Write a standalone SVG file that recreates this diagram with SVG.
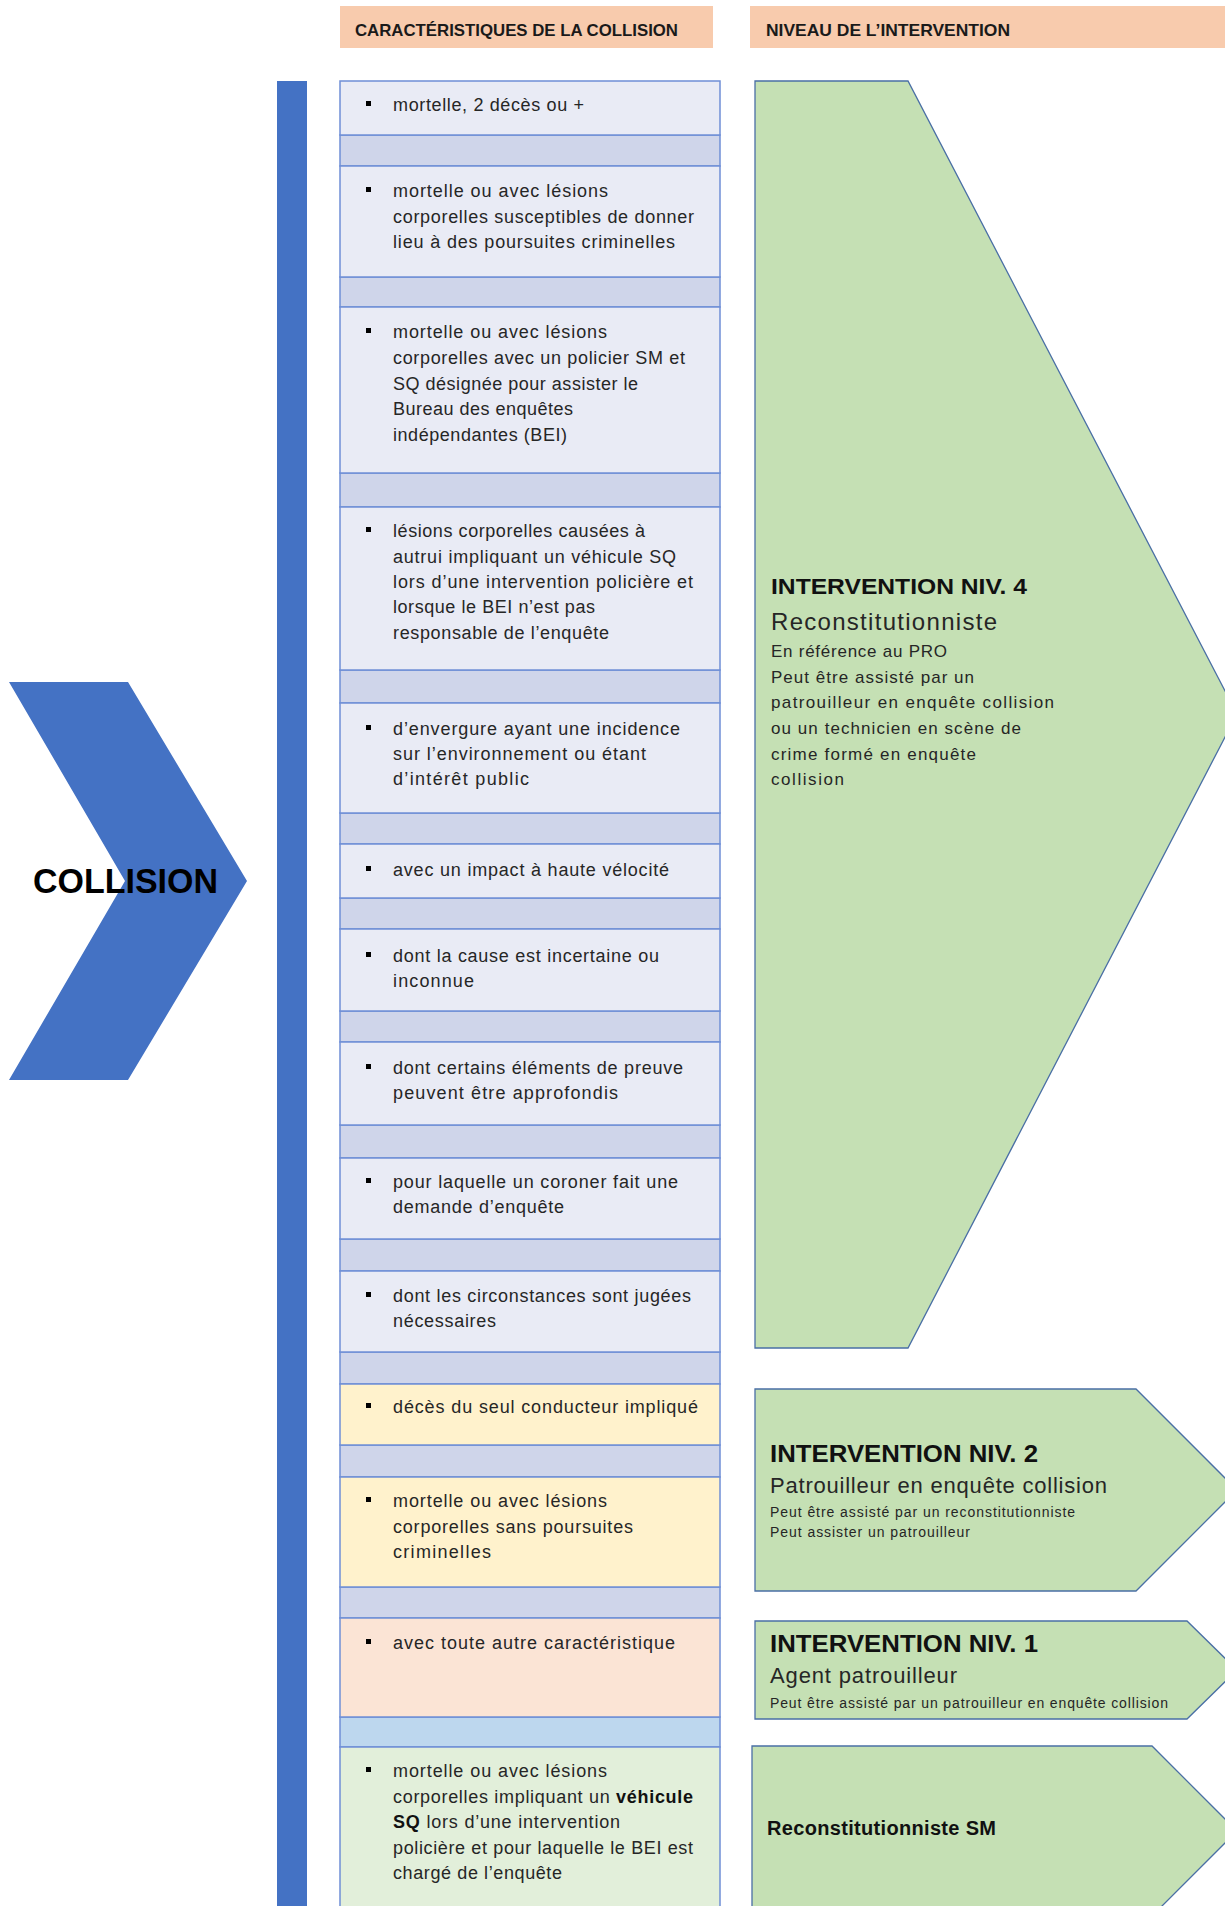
<svg xmlns="http://www.w3.org/2000/svg" width="1225" height="1906" viewBox="0 0 1225 1906">
<style>
.t{font-family:"Liberation Sans",Arial,sans-serif;fill:#262626}
.b{font-size:18px}
.h{font-size:16.5px;font-weight:bold;fill:#1a1a1a}
.row{stroke:#6f8fd6;stroke-width:1.5}
.lt{fill:#E9EBF5}.gp{fill:#CFD5EA}.ye{fill:#FFF2CC}.pe{fill:#FBE4D5}.lb{fill:#BDD7EE}.gr{fill:#E2EFDA}
.arr{fill:#C5E0B4;stroke:#4a6fa5;stroke-width:1.3}
.ttl{font-size:22px;font-weight:bold;fill:#111}
.sub{font-size:22px}
.sm{font-size:17px}
.xs{font-size:14px}
.bl{fill:#000}
</style>
<rect width="1225" height="1906" fill="#fff"/>
<g id="headers">
<rect x="340" y="6" width="373" height="42" fill="#F8CBAD"/>
<text class="t h" x="355" y="36" textLength="323" lengthAdjust="spacingAndGlyphs">CARACTÉRISTIQUES DE LA COLLISION</text>
<rect x="750" y="6" width="475" height="42" fill="#F8CBAD"/>
<text class="t h" x="766" y="36" textLength="244" lengthAdjust="spacingAndGlyphs">NIVEAU DE L’INTERVENTION</text>
</g>
<g id="collision">
<polygon points="9,682 128,682 247,881 128,1080 9,1080 125,881" fill="#4472C4"/>
<text class="t" x="33" y="893" style="font-size:35px;font-weight:bold;fill:#000" textLength="185" lengthAdjust="spacingAndGlyphs">COLLISION</text>
</g>
<g id="bar"><rect x="277" y="81" width="30" height="1830" fill="#4472C4"/></g>
<g id="connectors"></g>
<g id="characteristics">
<g id="gaps">
<rect class="row gp" x="340" y="135" width="380" height="31"/>
<rect class="row gp" x="340" y="277" width="380" height="30"/>
<rect class="row gp" x="340" y="473" width="380" height="34"/>
<rect class="row gp" x="340" y="670" width="380" height="33"/>
<rect class="row gp" x="340" y="813" width="380" height="31"/>
<rect class="row gp" x="340" y="898" width="380" height="31"/>
<rect class="row gp" x="340" y="1011" width="380" height="31"/>
<rect class="row gp" x="340" y="1125" width="380" height="33"/>
<rect class="row gp" x="340" y="1239" width="380" height="32"/>
<rect class="row gp" x="340" y="1352" width="380" height="32"/>
<rect class="row gp" x="340" y="1445" width="380" height="32"/>
<rect class="row gp" x="340" y="1587" width="380" height="31"/>
<rect class="row lb" x="340" y="1717" width="380" height="30"/>
</g>
<g id="c1">
<rect class="row lt" x="340" y="81" width="380" height="54"/>
<rect class="bl" x="366" y="101" width="5" height="5"/>
<text class="t b" x="393" y="111" textLength="191" lengthAdjust="spacing">mortelle, 2 décès ou +</text>
</g>
<g id="c2">
<rect class="row lt" x="340" y="166" width="380" height="111"/>
<rect class="bl" x="366" y="187" width="5" height="5"/>
<text class="t b" x="393" y="197" textLength="215" lengthAdjust="spacing">mortelle ou avec lésions</text>
<text class="t b" x="393" y="223" textLength="301" lengthAdjust="spacing">corporelles susceptibles de donner</text>
<text class="t b" x="393" y="248" textLength="282" lengthAdjust="spacing">lieu à des poursuites criminelles</text>
</g>
<g id="c3">
<rect class="row lt" x="340" y="307" width="380" height="166"/>
<rect class="bl" x="366" y="328" width="5" height="5"/>
<text class="t b" x="393" y="338" textLength="214" lengthAdjust="spacing">mortelle ou avec lésions</text>
<text class="t b" x="393" y="364" textLength="292" lengthAdjust="spacing">corporelles avec un policier SM et</text>
<text class="t b" x="393" y="390" textLength="245" lengthAdjust="spacing">SQ désignée  pour assister le</text>
<text class="t b" x="393" y="415" textLength="180" lengthAdjust="spacing">Bureau des enquêtes</text>
<text class="t b" x="393" y="441" textLength="174" lengthAdjust="spacing">indépendantes (BEI)</text>
</g>
<g id="c4">
<rect class="row lt" x="340" y="507" width="380" height="163"/>
<rect class="bl" x="366" y="527" width="5" height="5"/>
<text class="t b" x="393" y="537" textLength="252" lengthAdjust="spacing">lésions corporelles causées à</text>
<text class="t b" x="393" y="563" textLength="283" lengthAdjust="spacing">autrui impliquant un véhicule SQ</text>
<text class="t b" x="393" y="588" textLength="300" lengthAdjust="spacing">lors d’une intervention policière et</text>
<text class="t b" x="393" y="613" textLength="202" lengthAdjust="spacing">lorsque le BEI n’est pas</text>
<text class="t b" x="393" y="639" textLength="216" lengthAdjust="spacing">responsable de l’enquête</text>
</g>
<g id="c5">
<rect class="row lt" x="340" y="703" width="380" height="110"/>
<rect class="bl" x="366" y="725" width="5" height="5"/>
<text class="t b" x="393" y="735" textLength="287" lengthAdjust="spacing">d’envergure  ayant une  incidence</text>
<text class="t b" x="393" y="760" textLength="253" lengthAdjust="spacing">sur l’environnement ou étant</text>
<text class="t b" x="393" y="785" textLength="136" lengthAdjust="spacing">d’intérêt public</text>
</g>
<g id="c6">
<rect class="row lt" x="340" y="844" width="380" height="54"/>
<rect class="bl" x="366" y="866" width="5" height="5"/>
<text class="t b" x="393" y="876" textLength="276" lengthAdjust="spacing">avec un impact à haute vélocité</text>
</g>
<g id="c7">
<rect class="row lt" x="340" y="929" width="380" height="82"/>
<rect class="bl" x="366" y="952" width="5" height="5"/>
<text class="t b" x="393" y="962" textLength="266" lengthAdjust="spacing">dont la cause est incertaine ou</text>
<text class="t b" x="393" y="987" textLength="81" lengthAdjust="spacing">inconnue</text>
</g>
<g id="c8">
<rect class="row lt" x="340" y="1042" width="380" height="83"/>
<rect class="bl" x="366" y="1064" width="5" height="5"/>
<text class="t b" x="393" y="1074" textLength="290" lengthAdjust="spacing">dont certains éléments  de preuve</text>
<text class="t b" x="393" y="1099" textLength="225" lengthAdjust="spacing">peuvent  être  approfondis</text>
</g>
<g id="c9">
<rect class="row lt" x="340" y="1158" width="380" height="81"/>
<rect class="bl" x="366" y="1178" width="5" height="5"/>
<text class="t b" x="393" y="1188" textLength="285" lengthAdjust="spacing">pour laquelle un coroner fait une</text>
<text class="t b" x="393" y="1213" textLength="171" lengthAdjust="spacing">demande  d’enquête</text>
</g>
<g id="c10">
<rect class="row lt" x="340" y="1271" width="380" height="81"/>
<rect class="bl" x="366" y="1292" width="5" height="5"/>
<text class="t b" x="393" y="1302" textLength="298" lengthAdjust="spacing">dont les circonstances sont jugées</text>
<text class="t b" x="393" y="1327" textLength="103" lengthAdjust="spacing">nécessaires</text>
</g>
<g id="c11">
<rect class="row ye" x="340" y="1384" width="380" height="61"/>
<rect class="bl" x="366" y="1403" width="5" height="5"/>
<text class="t b" x="393" y="1413" textLength="305" lengthAdjust="spacing">décès du seul conducteur impliqué</text>
</g>
<g id="c12">
<rect class="row ye" x="340" y="1477" width="380" height="110"/>
<rect class="bl" x="366" y="1497" width="5" height="5"/>
<text class="t b" x="393" y="1507" textLength="214" lengthAdjust="spacing">mortelle ou avec lésions</text>
<text class="t b" x="393" y="1533" textLength="240" lengthAdjust="spacing">corporelles sans poursuites</text>
<text class="t b" x="393" y="1558" textLength="98" lengthAdjust="spacing">criminelles</text>
</g>
<g id="c13">
<rect class="row pe" x="340" y="1618" width="380" height="99"/>
<rect class="bl" x="366" y="1639" width="5" height="5"/>
<text class="t b" x="393" y="1649" textLength="282" lengthAdjust="spacing">avec toute autre caractéristique</text>
</g>
<g id="c14">
<rect class="row gr" x="340" y="1747" width="380" height="170"/>
<rect class="bl" x="366" y="1767" width="5" height="5"/>
<text class="t b" x="393" y="1777" textLength="214" lengthAdjust="spacing">mortelle ou avec lésions</text>
<text class="t b" x="393" y="1803" textLength="300" lengthAdjust="spacing">corporelles impliquant un <tspan font-weight="bold" fill="#111">véhicule</tspan></text>
<text class="t b" x="393" y="1828" textLength="227" lengthAdjust="spacing"><tspan font-weight="bold" fill="#111">SQ</tspan> lors d’une intervention</text>
<text class="t b" x="393" y="1854" textLength="300" lengthAdjust="spacing">policière et pour laquelle le BEI est</text>
<text class="t b" x="393" y="1879" textLength="169" lengthAdjust="spacing">chargé de l’enquête</text>
</g>
</g>
<g id="niv4">
<polygon class="arr" points="755,81 908,81 1237,714 908,1348 755,1348"/>
<text class="t ttl" x="771" y="594" textLength="256" lengthAdjust="spacingAndGlyphs">INTERVENTION NIV. 4</text>
<text class="t sub" x="771" y="630" style="font-size:24px" textLength="226" lengthAdjust="spacing">Reconstitutionniste</text>
<text class="t sm" x="771" y="657" textLength="176" lengthAdjust="spacing">En référence  au PRO</text>
<text class="t sm" x="771" y="683" textLength="203" lengthAdjust="spacing">Peut être  assisté par un</text>
<text class="t sm" x="771" y="708" textLength="283" lengthAdjust="spacing">patrouilleur en enquête  collision</text>
<text class="t sm" x="771" y="734" textLength="250" lengthAdjust="spacing">ou un technicien en  scène de</text>
<text class="t sm" x="771" y="760" textLength="205" lengthAdjust="spacing">crime formé en enquête</text>
<text class="t sm" x="771" y="785" textLength="73" lengthAdjust="spacing">collision</text>
</g>
<g id="niv2">
<polygon class="arr" points="755,1389 1136,1389 1237,1490 1136,1591 755,1591"/>
<text class="t ttl" x="770" y="1462" style="font-size:23px" textLength="268" lengthAdjust="spacingAndGlyphs">INTERVENTION NIV. 2</text>
<text class="t sub" x="770" y="1493" textLength="337" lengthAdjust="spacing">Patrouilleur en enquête collision</text>
<text class="t xs" x="770" y="1517" textLength="305" lengthAdjust="spacing">Peut être assisté par un reconstitutionniste</text>
<text class="t xs" x="770" y="1537" textLength="200" lengthAdjust="spacing">Peut assister un patrouilleur</text>
</g>
<g id="niv1">
<polygon class="arr" points="755,1621 1187,1621 1237,1670 1187,1719 755,1719"/>
<text class="t ttl" x="770" y="1652" style="font-size:23px" textLength="268" lengthAdjust="spacingAndGlyphs">INTERVENTION NIV. 1</text>
<text class="t sub" x="770" y="1683" textLength="187" lengthAdjust="spacing">Agent patrouilleur</text>
<text class="t xs" x="770" y="1708" textLength="398" lengthAdjust="spacing">Peut être assisté par un patrouilleur en enquête collision</text>
</g>
<g id="reconstitutionniste-sm">
<polygon class="arr" points="752,1746 1152,1746 1237,1831 1152,1916 752,1916"/>
<text class="t" x="767" y="1835" style="font-size:20px;font-weight:bold;fill:#111" textLength="229" lengthAdjust="spacing">Reconstitutionniste SM</text>
</g>
</svg>
